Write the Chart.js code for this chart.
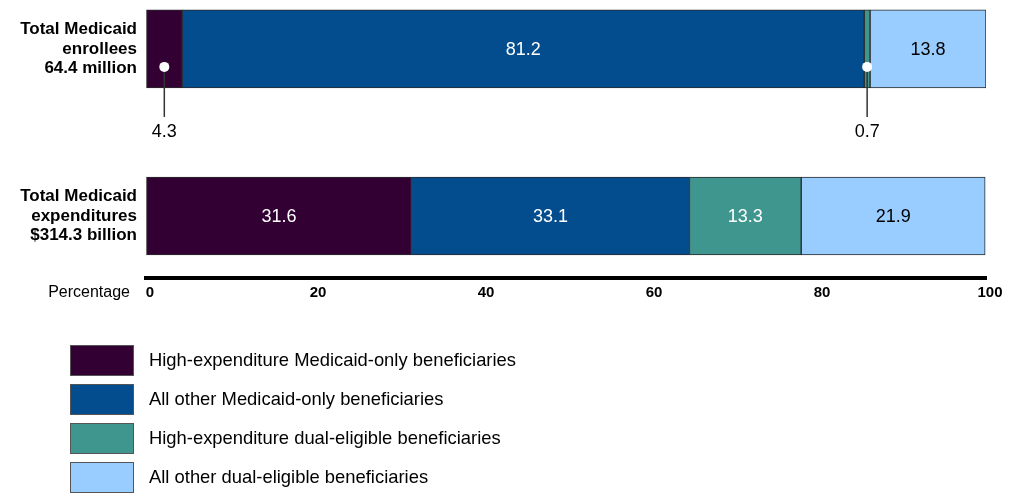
<!DOCTYPE html>
<html>
<head>
<meta charset="utf-8">
<script src="https://cdn.jsdelivr.net/npm/chart.js@4.4.1/dist/chart.umd.min.js"></script>
<style>
    html, body { margin: 0; padding: 0; background: #fff; }
    #wrap { width: 1016px; height: 493px; position: relative; }
</style>
</head>
<body>
<div id="wrap"><canvas id="medicaid-chart"></canvas></div>
<script>
var categories = [
    ['Total Medicaid', 'enrollees', '64.4 million'],
    ['Total Medicaid', 'expenditures', '$314.3 billion']
];
var seriesNames = [
    'High-expenditure Medicaid-only beneficiaries',
    'All other Medicaid-only beneficiaries',
    'High-expenditure dual-eligible beneficiaries',
    'All other dual-eligible beneficiaries'
];
var highExpMedicaidOnly = [4.3, 31.6];
var otherMedicaidOnly = [81.2, 33.1];
var highExpDualEligible = [0.7, 13.3];
var otherDualEligible = [13.8, 21.9];
var percentTicks = [0, 20, 40, 60, 80, 100];
var axisTitle = 'Percentage';

var FONT = '"Liberation Sans", Arial, Helvetica, sans-serif';
var colors = ['#330033', '#034c8e', '#3f968e', '#99ccff'];
var labelColors = ['#ffffff', '#ffffff', '#ffffff', '#000000'];

function toPoints(values) {
    return values.map(function (v, i) { return { x: v, y: i }; });
}

var seriesValues = [highExpMedicaidOnly, otherMedicaidOnly, highExpDualEligible, otherDualEligible];
var datasets = seriesValues.map(function (values, i) {
    return {
        label: seriesNames[i],
        data: toPoints(values),
        backgroundColor: colors[i],
        borderColor: '#2a2a2a',
        borderWidth: 1,
        borderSkipped: false,
        barThickness: 78
    };
});

// numbers inside the bars, small shares get a dot + leader line below
var valueLabels = {
    id: 'valueLabels',
    afterDatasetsDraw: function (chart) {
        var ctx = chart.ctx;
        ctx.save();
        ctx.font = '18px ' + FONT;
        ctx.textAlign = 'center';
        ctx.textBaseline = 'middle';
        chart.data.datasets.forEach(function (ds, i) {
            var meta = chart.getDatasetMeta(i);
            meta.data.forEach(function (bar, j) {
                var v = ds.data[j].x;
                var p = bar.getProps(['x', 'y', 'base', 'height'], true);
                var cx = (p.x + p.base) / 2;
                if (v >= 5) {
                    ctx.fillStyle = labelColors[i];
                    ctx.fillText(v.toFixed(1), cx, p.y + 1);
                } else {
                    var bottom = p.y + p.height / 2;
                    var dotY = p.y + p.height * 0.23;
                    ctx.strokeStyle = '#333';
                    ctx.lineWidth = 1.5;
                    ctx.beginPath();
                    ctx.moveTo(cx, dotY);
                    ctx.lineTo(cx, bottom + 29);
                    ctx.stroke();
                    ctx.fillStyle = '#fff';
                    ctx.beginPath();
                    ctx.arc(cx, dotY, 5, 0, Math.PI * 2);
                    ctx.fill();
                    ctx.fillStyle = '#000';
                    ctx.fillText(v.toFixed(1), cx, bottom + 44);
                }
            });
        });
        ctx.restore();
    }
};

// axis title on the left + the vertical legend at the bottom
var sideLegend = {
    id: 'sideLegend',
    afterDraw: function (chart) {
        var ctx = chart.ctx;
        var xs = chart.scales.x;
        ctx.save();
        ctx.font = '16px ' + FONT;
        ctx.fillStyle = '#000';
        ctx.textAlign = 'right';
        ctx.textBaseline = 'middle';
        ctx.fillText(axisTitle, 130, xs.top + 15);

        ctx.font = '18.4px ' + FONT;
        ctx.textAlign = 'left';
        chart.data.datasets.forEach(function (ds, i) {
            var top = 345 + i * 39;
            ctx.fillStyle = ds.backgroundColor;
            ctx.fillRect(70, top, 64, 31);
            ctx.strokeStyle = '#555';
            ctx.lineWidth = 1;
            ctx.strokeRect(70.5, top + 0.5, 63, 30);
            ctx.fillStyle = '#000';
            ctx.fillText(ds.label, 149, top + 16);
        });
        ctx.restore();
    }
};

var ctx = document.getElementById('medicaid-chart');
var chart = new Chart(ctx, {
    type: 'bar',
    data: { datasets: datasets },
    plugins: [valueLabels, sideLegend],
    options: {
        indexAxis: 'y',
        responsive: true,
        maintainAspectRatio: false,
        animation: false,
        layout: { padding: { left: 0, right: 30, top: 0, bottom: 185 } },
        plugins: {
            legend: { display: false },
            tooltip: { enabled: false }
        },
        scales: {
            x: {
                type: 'linear',
                stacked: true,
                min: 0,
                max: 100,
                afterBuildTicks: function (scale) {
                    scale.ticks = percentTicks.map(function (v) { return { value: v }; });
                },
                afterFit: function (scale) { scale.height = 30; },
                grid: { display: true, drawOnChartArea: false, drawTicks: false },
                border: { display: true, color: '#000', width: 4 },
                ticks: {
                    color: '#000',
                    font: { family: FONT, size: 15, weight: 'bold' },
                    padding: 6,
                    labelOffset: 4,
                    maxRotation: 0
                }
            },
            y: {
                type: 'linear',
                stacked: true,
                reverse: true,
                offset: false,
                min: -0.293,
                max: 1.371,
                afterBuildTicks: function (scale) {
                    scale.ticks = categories.map(function (c, i) { return { value: i }; });
                },
                afterFit: function (scale) {
                    scale.width = 146;
                    scale.paddingTop = 0;
                    scale.paddingBottom = 0;
                },
                grid: { display: false, drawTicks: false },
                border: { display: false },
                ticks: {
                    color: '#000',
                    padding: 9,
                    font: { family: FONT, size: 17, weight: 'bold', lineHeight: 1.15 },
                    callback: function (value) { return categories[value]; }
                }
            }
        }
    }
});
</script>
</body>
</html>
